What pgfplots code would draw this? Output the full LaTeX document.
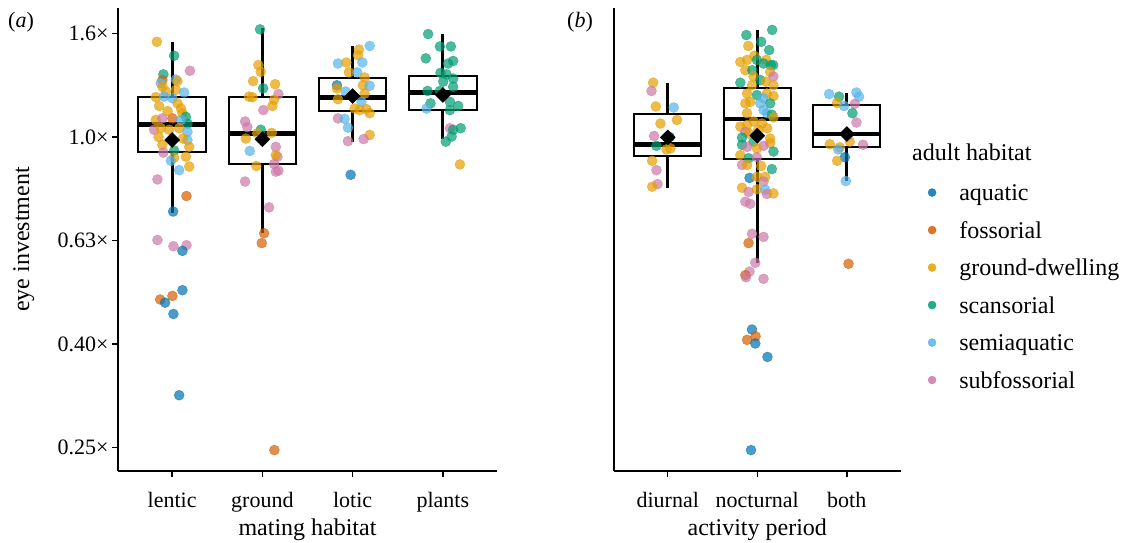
\documentclass[border=0pt]{standalone}
\usepackage{fontspec}
\setmainfont{Liberation Serif}
\usepackage{pgfplots}
\pgfplotsset{compat=1.18}
\usepackage{pgfplotstable}

\definecolor{caq}{HTML}{0072B2}
\definecolor{cfo}{HTML}{D55E00}
\definecolor{cgd}{HTML}{E69F00}
\definecolor{csc}{HTML}{009E73}
\definecolor{csa}{HTML}{56B4E9}
\definecolor{csf}{HTML}{CC79A7}

\newcommand{\fs}{\fontsize{22}{26}\selectfont}
\newcommand{\fl}{\fontsize{24}{26}\selectfont}

% panel (a): mating habitat; y = log10(eye investment)
\pgfplotstableread{
x y c
0.830 0.184 gd
1.022 0.157 sc
1.197 0.128 sf
0.903 0.121 sc
0.892 0.110 fo
1.041 0.111 sa
1.059 0.108 gd
0.874 0.104 sa
0.892 0.097 gd
0.930 0.088 gd
1.041 0.091 gd
1.133 0.086 sa
1.003 0.075 sa
0.819 0.077 gd
0.911 0.078 sa
0.856 0.060 gd
1.097 0.055 gd
1.114 0.046 gd
1.152 0.039 sc
1.170 0.026 sc
0.819 0.033 gd
0.892 0.036 sf
1.003 0.036 fo
1.097 0.033 sa
0.800 0.014 sf
0.874 0.017 gd
0.967 0.014 gd
1.078 0.017 gd
1.170 0.010 sa
1.170 -0.006 sa
0.892 -0.015 gd
1.189 -0.019 gd
0.903 -0.030 sf
1.022 -0.026 sc
1.022 -0.040 gd
1.152 -0.038 gd
0.986 -0.046 sa
1.078 -0.064 sa
1.189 -0.057 gd
0.837 -0.082 sf
1.159 -0.114 fo
1.011 -0.144 aq
0.837 -0.199 sf
1.014 -0.211 sf
1.159 -0.209 sf
1.114 -0.220 aq
1.114 -0.296 aq
0.867 -0.314 fo
1.003 -0.307 fo
0.922 -0.320 aq
1.014 -0.342 aq
1.078 -0.499 aq
0.950 0.050 gd
1.060 0.065 gd
1.120 -0.003 gd
0.850 0.000 gd
1.974 0.208 sc
1.956 0.139 gd
1.982 0.126 gd
1.897 0.108 gd
2.141 0.102 gd
2.008 0.094 sc
2.178 0.083 sf
1.852 0.078 gd
1.889 0.077 gd
2.130 0.072 gd
2.111 0.060 gd
2.011 0.052 sf
1.808 0.030 sf
1.833 0.019 sf
1.982 0.014 sc
1.944 0.007 gd
2.104 0.008 gd
1.816 -0.003 gd
1.860 -0.027 sa
2.149 -0.019 sf
2.167 -0.038 sf
2.149 -0.035 gd
2.130 -0.052 sf
2.149 -0.067 sf
2.178 -0.065 sf
1.933 -0.056 gd
1.808 -0.086 sf
2.074 -0.136 sf
2.019 -0.186 fo
1.993 -0.205 fo
2.133 -0.605 fo
3.070 0.169 gd
3.189 0.176 sa
3.059 0.158 gd
2.837 0.142 sa
2.930 0.144 gd
3.108 0.144 sa
2.959 0.125 gd
3.052 0.125 sa
3.133 0.115 gd
3.114 0.100 gd
2.826 0.100 aq
2.826 0.094 gd
3.189 0.099 sa
2.922 0.088 sa
3.133 0.084 gd
2.837 0.073 gd
3.097 0.068 sa
3.022 0.055 gd
3.078 0.052 gd
3.152 0.054 gd
3.189 0.046 gd
2.837 0.036 sf
2.911 0.035 sa
2.948 0.018 sa
3.189 0.004 gd
2.948 -0.008 sf
3.122 -0.004 sf
2.978 -0.073 aq
3.837 0.199 sc
3.967 0.175 sc
4.089 0.175 sc
3.811 0.152 sc
4.059 0.142 sc
4.114 0.147 sc
3.974 0.124 sc
4.041 0.121 sc
4.114 0.113 sc
4.004 0.107 sc
4.114 0.097 sc
3.830 0.089 sc
3.967 0.089 sc
3.863 0.065 sc
4.078 0.068 sc
4.170 0.060 sc
3.819 0.055 sa
4.078 0.052 sc
4.078 0.017 sf
4.197 0.017 sc
4.114 0.014 sc
4.097 0.001 sc
4.033 -0.009 sc
4.189 -0.053 gd
}\mating

% panel (b): activity period
\pgfplotstableread{
x y c
0.837 0.105 gd
0.819 0.089 sf
0.867 0.059 gd
1.067 0.057 sa
1.103 0.033 gd
0.919 0.026 gd
0.848 0.002 sf
1.022 0.000 aq
0.874 -0.017 sc
0.986 -0.024 gd
1.030 -0.022 gd
0.826 -0.046 gd
0.874 -0.064 sf
0.886 -0.091 sf
0.826 -0.096 gd
2.167 0.207 sc
1.878 0.197 sc
1.900 0.176 gd
2.044 0.184 sc
2.133 0.168 sc
1.967 0.157 gd
2.100 0.149 gd
1.811 0.145 gd
2.178 0.139 sc
1.886 0.149 gd
1.996 0.149 sc
2.070 0.142 sc
2.152 0.139 sc
1.867 0.129 gd
1.944 0.129 sc
2.144 0.126 gd
1.811 0.105 sc
1.941 0.100 gd
1.959 0.117 gd
2.033 0.110 sc
2.097 0.107 gd
2.181 0.117 sf
2.181 0.100 gd
1.886 0.084 gd
1.996 0.081 sc
2.108 0.084 gd
2.181 0.079 gd
2.067 0.075 sa
1.867 0.065 gd
1.922 0.068 gd
2.033 0.065 sa
2.144 0.065 sc
2.070 0.052 sa
2.108 0.046 sa
2.163 0.043 sc
2.181 0.038 gd
1.886 0.046 gd
1.959 0.030 gd
1.886 0.023 gd
1.811 0.020 gd
2.052 0.026 gd
2.011 0.014 gd
2.111 0.017 gd
1.867 0.010 sf
1.903 0.007 gd
1.830 -0.001 sc
1.830 -0.015 sc
1.959 -0.009 sc
1.886 -0.019 sf
2.144 -0.003 gd
2.144 -0.012 gd
2.070 -0.017 sf
2.181 -0.028 sc
1.996 -0.022 gd
1.811 -0.035 gd
1.903 -0.041 sc
1.996 -0.039 sf
1.830 -0.054 sf
1.886 -0.054 gd
2.044 -0.056 gd
2.163 -0.062 sc
1.914 -0.079 aq
1.996 -0.077 gd
2.089 -0.077 gd
2.070 -0.086 sf
1.830 -0.098 gd
1.903 -0.106 sf
1.996 -0.101 gd
2.089 -0.102 sa
2.108 -0.110 sf
2.181 -0.109 gd
1.867 -0.125 sf
1.922 -0.129 sf
1.941 -0.187 sf
2.070 -0.193 sf
1.903 -0.205 fo
1.978 -0.243 sf
1.914 -0.260 sf
1.867 -0.267 fo
1.874 -0.271 sf
2.070 -0.274 sf
1.941 -0.372 aq
1.981 -0.385 fo
1.886 -0.392 fo
1.978 -0.399 aq
2.114 -0.425 aq
1.930 -0.605 aq
2.803 0.083 sa
2.914 0.078 sc
3.108 0.086 sa
3.137 0.078 sa
2.892 0.066 gd
2.970 0.060 sa
3.089 0.064 sf
3.063 0.046 sc
3.108 0.028 sf
3.014 0.004 aq
2.811 -0.014 gd
2.922 -0.020 gd
3.033 -0.009 gd
3.181 -0.015 sf
2.903 -0.024 sa
2.978 -0.039 aq
2.892 -0.046 gd
2.989 -0.085 sa
3.019 -0.245 fo
}\activity

\pgfplotsset{
  panel/.style={
    scale only axis, height=463pt, ymin=-0.6454, ymax=0.2493, xmin=0.4,
    axis lines*=left, axis line style={-, line width=1.5pt},
    tick style={line width=1.5pt, black}, tick align=outside, major tick length=6pt,
    tick label style={font=\fs, text=black},
    xticklabel style={anchor=base, yshift=-30pt},
    every axis x label/.style={at={(axis description cs:0.5,0)}, anchor=base, yshift=-64pt, font=\fl},
    scatter/classes={
      aq={mark=*, draw=caq, fill=caq, opacity=0.7},
      fo={mark=*, draw=cfo, fill=cfo, opacity=0.7},
      gd={mark=*, draw=cgd, fill=cgd, opacity=0.7},
      sc={mark=*, draw=csc, fill=csc, opacity=0.7},
      sa={mark=*, draw=csa, fill=csa, opacity=0.7},
      sf={mark=*, draw=csf, fill=csf, opacity=0.7}},
  },
  whisk/.style={forget plot, black, line width=2.8pt},
  boxr/.style={forget plot, draw=black, fill=white, line width=2pt, line join=miter},
  medl/.style={forget plot, black, line width=4.8pt},
  pts/.style={forget plot, scatter, only marks, mark size=5pt, scatter src=explicit symbolic},
  means/.style={forget plot, only marks, mark=square*, mark size=5.3pt,
    mark options={rotate=45, fill=black, draw=black}},
}

\begin{document}
\begin{tikzpicture}
\useasboundingbox (0,0) rectangle (1126pt,542pt);

\begin{axis}[panel, at={(118pt,71pt)}, anchor=south west, width=379pt, xmax=4.6,
  xtick={1,2,3,4}, xticklabels={lentic,ground,lotic,plants},
  ytick={-0.6,-0.4,-0.2,0,0.2}, yticklabels={0.25×,0.40×,0.63×,1.0×,1.6×},
  xlabel={mating habitat}, ylabel={eye investment},
  every axis y label/.style={at={(axis description cs:-0.2348,0.5)}, anchor=base, rotate=90, font=\fl}]
  % whiskers (lower whisker to upper whisker)
  \addplot[whisk] coordinates {(1,-0.1463) (1,0.1842)};
  \addplot[whisk] coordinates {(2,-0.1855) (2,0.2100)};
  \addplot[whisk] coordinates {(3,-0.0091) (3,0.1758)};
  \addplot[whisk] coordinates {(4,-0.0044) (4,0.1990)};
  % boxes (lower quartile to upper quartile)
  \addplot[boxr] coordinates {(0.625,-0.0284) (1.375,-0.0284) (1.375,0.0779) (0.625,0.0779)} --cycle;
  \addplot[boxr] coordinates {(1.625,-0.0528) (2.375,-0.0528) (2.375,0.0779) (1.625,0.0779)} --cycle;
  \addplot[boxr] coordinates {(2.625,0.0508) (3.375,0.0508) (3.375,0.1146) (2.625,0.1146)} --cycle;
  \addplot[boxr] coordinates {(3.625,0.0522) (4.375,0.0522) (4.375,0.1179) (3.625,0.1179)} --cycle;
  % medians
  \addplot[medl] coordinates {(0.625,0.0245) (1.375,0.0245)};
  \addplot[medl] coordinates {(1.625,0.0072) (2.375,0.0072)};
  \addplot[medl] coordinates {(2.625,0.0767) (3.375,0.0767)};
  \addplot[medl] coordinates {(3.625,0.0864) (4.375,0.0864)};
  \addplot[pts] table[x=x, y=y, meta=c] {\mating};
  \addplot[means] coordinates {(1,-0.0058) (2,-0.0044) (3,0.0792) (4,0.0812)};
\end{axis}

\begin{axis}[panel, at={(614pt,71pt)}, anchor=south west, width=286.5pt, xmax=3.6,
  xtick={1,2,3}, xticklabels={diurnal,nocturnal,both}, ytick=\empty,
  xlabel={activity period},
  legend cell align=left,
  legend style={draw=none, fill=none, inner sep=0pt, row sep=17.8pt, font=\fl,
    nodes={inner sep=0pt}, at={(axis description cs:1,1)}, anchor=north west,
    xshift=27.2pt, yshift=-174.5pt}]
  \addplot[whisk] coordinates {(1,-0.0980) (1,0.1038)};
  \addplot[whisk] coordinates {(2,-0.2429) (2,0.2068)};
  \addplot[whisk] coordinates {(3,-0.0844) (3,0.0844)};
  \addplot[boxr] coordinates {(0.625,-0.0373) (1.375,-0.0373) (1.375,0.0444) (0.625,0.0444)} --cycle;
  \addplot[boxr] coordinates {(1.625,-0.0419) (2.375,-0.0419) (2.375,0.0941) (1.625,0.0941)} --cycle;
  \addplot[boxr] coordinates {(2.625,-0.0187) (3.375,-0.0187) (3.375,0.0613) (2.625,0.0613)} --cycle;
  \addplot[medl] coordinates {(0.625,-0.0141) (1.375,-0.0141)};
  \addplot[medl] coordinates {(1.625,0.0348) (2.375,0.0348)};
  \addplot[medl] coordinates {(2.625,0.0058) (3.375,0.0058)};
  \addplot[pts] table[x=x, y=y, meta=c] {\activity};
  \addplot[means] coordinates {(1,-0.0006) (2,0.0025) (3,0.0058)};
  \addlegendimage{legend image code/.code={\fill[caq,opacity=0.85] (0pt,0pt) circle (4pt); \path (-4pt,0pt) (27pt,0pt);}}
  \addlegendentry{\strut aquatic}
  \addlegendimage{legend image code/.code={\fill[cfo,opacity=0.85] (0pt,0pt) circle (4pt); \path (-4pt,0pt) (27pt,0pt);}}
  \addlegendentry{\strut fossorial}
  \addlegendimage{legend image code/.code={\fill[cgd,opacity=0.85] (0pt,0pt) circle (4pt); \path (-4pt,0pt) (27pt,0pt);}}
  \addlegendentry{\strut ground-dwelling}
  \addlegendimage{legend image code/.code={\fill[csc,opacity=0.85] (0pt,0pt) circle (4pt); \path (-4pt,0pt) (27pt,0pt);}}
  \addlegendentry{\strut scansorial}
  \addlegendimage{legend image code/.code={\fill[csa,opacity=0.85] (0pt,0pt) circle (4pt); \path (-4pt,0pt) (27pt,0pt);}}
  \addlegendentry{\strut semiaquatic}
  \addlegendimage{legend image code/.code={\fill[csf,opacity=0.85] (0pt,0pt) circle (4pt); \path (-4pt,0pt) (27pt,0pt);}}
  \addlegendentry{\strut subfossorial}
\end{axis}

\node[anchor=base west, inner sep=0pt, font=\fs] at (8pt,514pt) {(\textit{a})};
\node[anchor=base west, inner sep=0pt, font=\fs] at (567pt,514pt) {(\textit{b})};
\node[anchor=base west, inner sep=0pt, font=\fl] at (912pt,382pt) {adult habitat};
\end{tikzpicture}
\end{document}
